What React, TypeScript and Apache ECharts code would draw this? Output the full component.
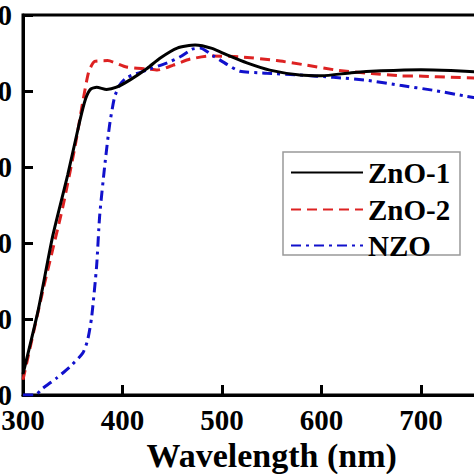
import React, { useEffect, useRef } from "react";
import * as echarts from "echarts";

const yTicks = [0, 20, 40, 60, 80, 100];
const xTickLabels = [300, 400, 500, 600, 700];

const zno1Wl = [300, 315, 330, 345, 357, 363, 368, 374, 384, 394, 408, 425, 438, 455, 473, 490, 505, 525, 548, 578, 600, 630, 660, 700, 730, 760];
const zno1T = [5.5, 22, 42, 58, 72, 78, 80.5, 81, 80.4, 81, 83, 86, 88.7, 91.3, 92.1, 91.2, 89.5, 87.4, 85.5, 84.2, 84, 84.8, 85.3, 85.6, 85.4, 85];

const zno2Wl = [300, 320, 340, 352, 360, 366, 372, 385, 404, 425, 435, 451, 468, 488, 518, 555, 585, 615, 650, 679, 702, 730, 760];
const zno2T = [4, 27.5, 49.5, 65, 77, 85, 87.8, 88, 86.3, 85.8, 85.5, 86.8, 88.4, 89.2, 89, 88, 86.8, 85.5, 84.6, 84, 83.9, 83.6, 83.4];

const nzoWl = [300, 312, 320, 334, 347, 360, 365, 369, 374, 377, 382, 387, 392, 397, 404, 424, 445, 458, 470, 478, 491, 505, 518, 545, 578, 612, 646, 679, 712, 746, 760];
const nzoT = [0, 0, 1.8, 4.5, 7.4, 11, 14.5, 20.5, 34, 47, 60, 71, 78.4, 81.5, 83.5, 85.5, 87.4, 89, 91, 91.3, 89.3, 87, 85.2, 84.7, 84.2, 83.6, 82.8, 81.5, 80.2, 78.6, 78];

const seriesNames = ["ZnO-1", "ZnO-2", "NZO"];
const seriesColors = ["#000000", "#dd2222", "#1111cc"];

const pairs = (xs: number[], ys: number[]) => xs.map((x, i) => [x, ys[i]]);

const FONT = "Liberation Serif";

export default function App() {
  const ref = useRef<HTMLDivElement>(null);
  useEffect(() => {
    if (!ref.current) return;
    const chart = echarts.init(ref.current, undefined, { renderer: "svg" });
    const labelStyle = { fontFamily: FONT, fontWeight: "bold" as const, fontSize: 29, color: "#000" };
    const legendTops = [153, 190, 226];
    chart.setOption({
      animation: false,
      backgroundColor: "#fff",
      grid: {
        left: 23,
        top: 15,
        right: 0.5,
        bottom: 79,
        containLabel: false,
        outerBoundsMode: "none",
        show: true,
        borderColor: "#000",
        borderWidth: 3,
        backgroundColor: "transparent",
      },
      xAxis: {
        type: "value",
        min: 300,
        max: 800,
        interval: 100,
        position: "bottom",
        name: "Wavelength (nm)",
        nameLocation: "middle",
        nameGap: 37,
        nameTextStyle: { fontFamily: FONT, fontWeight: "bold", fontSize: 34, color: "#000" },
        axisLine: { show: true, onZero: false, lineStyle: { color: "#000", width: 3 } },
        axisTick: { show: true, inside: true, length: 10, lineStyle: { color: "#000", width: 3 } },
        axisLabel: {
          ...labelStyle,
          margin: 10,
          hideOverlap: false,
          showMaxLabel: false,
          formatter: (v: number) => (xTickLabels.includes(v) ? String(v) : ""),
        },
        splitLine: { show: false },
      },
      yAxis: {
        type: "value",
        min: 0,
        max: 100,
        interval: 20,
        axisLine: { show: true, onZero: false, lineStyle: { color: "#000", width: 3 } },
        axisTick: { show: true, inside: true, length: 10, lineStyle: { color: "#000", width: 3 } },
        axisLabel: { ...labelStyle, margin: 11, formatter: (v: number) => (yTicks.includes(v) ? String(v) : "") },
        splitLine: { show: false },
      },
      graphic: [
        {
          type: "rect",
          z: 1,
          shape: { x: 283, y: 152, width: 177, height: 103 },
          style: { fill: "#fff", stroke: "#999", lineWidth: 1.5 },
        },
      ],
      legend: seriesNames.map((n, i) => ({
        data: [n],
        left: 285,
        top: legendTops[i],
        itemWidth: 72,
        itemHeight: 14,
        z: 5,
        itemStyle: { opacity: 0 },
        textStyle: { fontFamily: FONT, fontWeight: "bold", fontSize: 29, color: "#000" },
      })),
      series: [
        {
          name: seriesNames[0],
          type: "line",
          data: pairs(zno1Wl, zno1T),
          smooth: 0.2,
          showSymbol: false,
          symbol: "none",
          lineStyle: { color: seriesColors[0], width: 3, type: "solid" },
          itemStyle: { color: seriesColors[0] },
          z: 4,
        },
        {
          name: seriesNames[1],
          type: "line",
          data: pairs(zno2Wl, zno2T),
          smooth: 0.2,
          showSymbol: false,
          symbol: "none",
          lineStyle: { color: seriesColors[1], width: 3, type: [10, 6] },
          itemStyle: { color: seriesColors[1] },
          z: 3,
        },
        {
          name: seriesNames[2],
          type: "line",
          data: pairs(nzoWl, nzoT),
          smooth: 0.2,
          showSymbol: false,
          symbol: "none",
          lineStyle: { color: seriesColors[2], width: 3, type: [10, 5, 3, 5] },
          itemStyle: { color: seriesColors[2] },
          z: 3,
        },
      ],
    });
    return () => chart.dispose();
  }, []);
  return (
    <div style={{ position: "fixed", left: 0, top: 0, width: 474, height: 474, overflow: "hidden", background: "#fff" }}>
      <div ref={ref} style={{ width: 521, height: 474 }} />
    </div>
  );
}
